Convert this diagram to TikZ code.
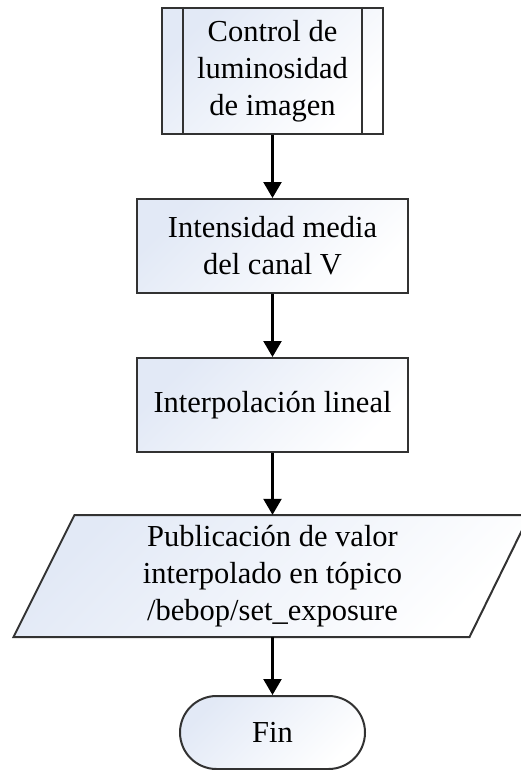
\documentclass[tikz,border=0pt]{standalone}
\usepackage{fontspec}
\setmainfont{Liberation Serif}
\usetikzlibrary{arrows.meta}
\definecolor{fillc}{RGB}{226,233,246}
\definecolor{edgec}{RGB}{50,50,50}
\tikzset{
  x=1pt, y=-1pt,
  flowfill/.style={top color=fillc, bottom color=white, shading angle=45},
  flowbox/.style={draw=edgec, line width=2pt, flowfill, align=center,
    inner sep=0pt, font=\fontsize{30.5}{37}\selectfont},
  flowtext/.style={align=center, inner sep=0pt, font=\fontsize{30.5}{37}\selectfont},
  flowarrow/.style={draw=black, line width=2.4pt, -{Triangle[width=18pt,length=16pt]}}
}
\begin{document}
\begin{tikzpicture}
\useasboundingbox (0,0) rectangle (521,770);

% predefined process
\node[flowbox, minimum width=221pt, minimum height=126pt] (ctrl) at (272.5,71)
  {Control de\\luminosidad\\de imagen};
\draw[edgec, line width=2pt] ([xshift=22pt]ctrl.north west) -- ([xshift=22pt]ctrl.south west);
\draw[edgec, line width=2pt] ([xshift=-22pt]ctrl.north east) -- ([xshift=-22pt]ctrl.south east);

% processes
\node[flowbox, minimum width=271pt, minimum height=94pt] (media) at (272.5,246)
  {Intensidad media\\del canal V};
\node[flowbox, minimum width=271pt, minimum height=94pt] (interp) at (272.5,405)
  {Interpolación lineal};

% data (parallelogram)
\path[draw=edgec, line width=2pt, flowfill]
  (74.5,515) -- (529.5,515) -- (469.5,637) -- (13.5,637) -- cycle;
\node[flowtext, minimum width=300pt, minimum height=122pt] (pub) at (272.5,576)
  {Publicación de valor\\interpolado en tópico\\/bebop/set\_exposure};

% terminator
\node[flowbox, minimum width=185pt, minimum height=73pt, rounded corners=36.5pt]
  (fin) at (272.5,732.5) {Fin};

% connectors
\draw[flowarrow] (ctrl.south) -- (media.north);
\draw[flowarrow] (media.south) -- (interp.north);
\draw[flowarrow] (interp.south) -- (pub.north);
\draw[flowarrow] (pub.south) -- (fin.north);
\end{tikzpicture}
\end{document}
